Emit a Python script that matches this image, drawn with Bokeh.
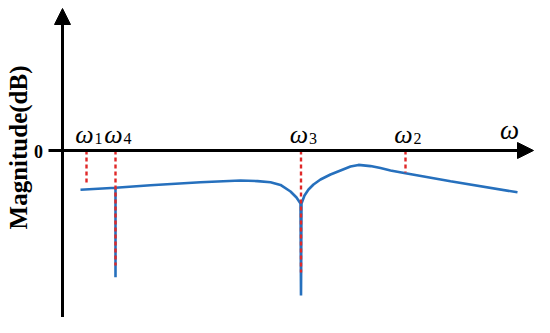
import math
from bokeh.plotting import figure
from bokeh.models import Arrow, NormalHead, Label, ColumnDataSource, Range1d
from bokeh.core.properties import value
from bokeh.embed import file_html
from bokeh.resources import INLINE

# Magnitude response (arbitrary frequency units, dB)
omega = [1.8, 5.3, 5.3, 5.3, 8.8, 13.8, 17.8, 19.5, 20.8, 21.8, 22.8, 23.4, 23.8,
         23.85, 23.9, 24.2, 24.6, 25.1, 25.8, 26.8, 27.8, 28.8, 29.6, 30.8,
         31.8, 32.8, 34.3, 38.8, 45.5]
mag_db = [-19.6, -18.6, -63.4, -18.6, -17.4, -15.9, -15.0, -15.3, -15.9, -17.2,
          -20.5, -23.5, -26.5, -72.5, -26.5, -22.5, -19.5, -17.0, -14.5, -12.0,
          -10.0, -8.0, -7.2, -7.8, -8.8, -10.0, -11.4, -15.4, -20.9]

# Marked frequencies
marker_sub = ["1", "4", "3", "2"]
marker_omega = [2.4, 5.3, 23.85, 34.3]
marker_depth = [-17.5, -57.5, -61.0, -11.0]

W, H = 534, 317
p = figure(width=W, height=H, output_backend="svg", toolbar_location=None,
           x_axis_type=None, y_axis_type=None, min_border=0,
           x_range=Range1d(-6.2, 47.2), y_range=Range1d(-83.5, 75.0))
p.grid.visible = False
p.outline_line_color = None
p.background_fill_color = "white"

serif = "Liberation Serif"

# axes as arrows
p.add_layout(Arrow(end=NormalHead(size=16, fill_color="black", line_color="black", line_width=1),
                   x_start=-1.4, y_start=0, x_end=47.1, y_end=0,
                   line_width=3, line_color="black"))
p.add_layout(Arrow(end=NormalHead(size=16, fill_color="black", line_color="black", line_width=1),
                   x_start=0, y_start=-95, x_end=0, y_end=71.0,
                   line_width=3, line_color="black"))

# curve
p.line(omega, mag_db, line_color="#2670BD", line_width=2.6)

# dotted markers
src = ColumnDataSource(dict(x=marker_omega, y0=[0] * 4, y1=marker_depth,
                            sub=marker_sub, w=["ω"] * 4))
p.segment(x0="x", y0="y0", x1="x", y1="y1", source=src,
          line_color="#E02828", line_width=2.4, line_dash="4 3")

p.text(x="x", y=8, text="w", source=src, x_offset=-2,
       text_font=value(serif), text_font_style="italic", text_font_size="26px",
       text_align="center", text_baseline="alphabetic", text_color="black")
p.text(x="x", y=6, text="sub", source=src, x_offset=8,
       text_font=value(serif), text_font_size="16px",
       text_align="left", text_baseline="alphabetic", text_color="black")

p.add_layout(Label(x=44.7, y=10.5, text="ω", text_font=serif, text_font_style="italic",
                   text_font_size="27px", text_align="center", text_baseline="alphabetic",
                   text_color="black"))
p.add_layout(Label(x=-2.4, y=-0.5, text="0", text_font=serif, text_font_style="bold",
                   text_font_size="18px", text_align="center", text_baseline="middle",
                   text_color="black"))
p.add_layout(Label(x=-4.4, y=1.5, text="Magnitude(dB)", angle=math.pi / 2,
                   text_font=serif, text_font_style="bold", text_font_size="25px",
                   text_align="center", text_baseline="middle", text_color="black"))

open("out.html", "w").write(file_html(p, INLINE))
